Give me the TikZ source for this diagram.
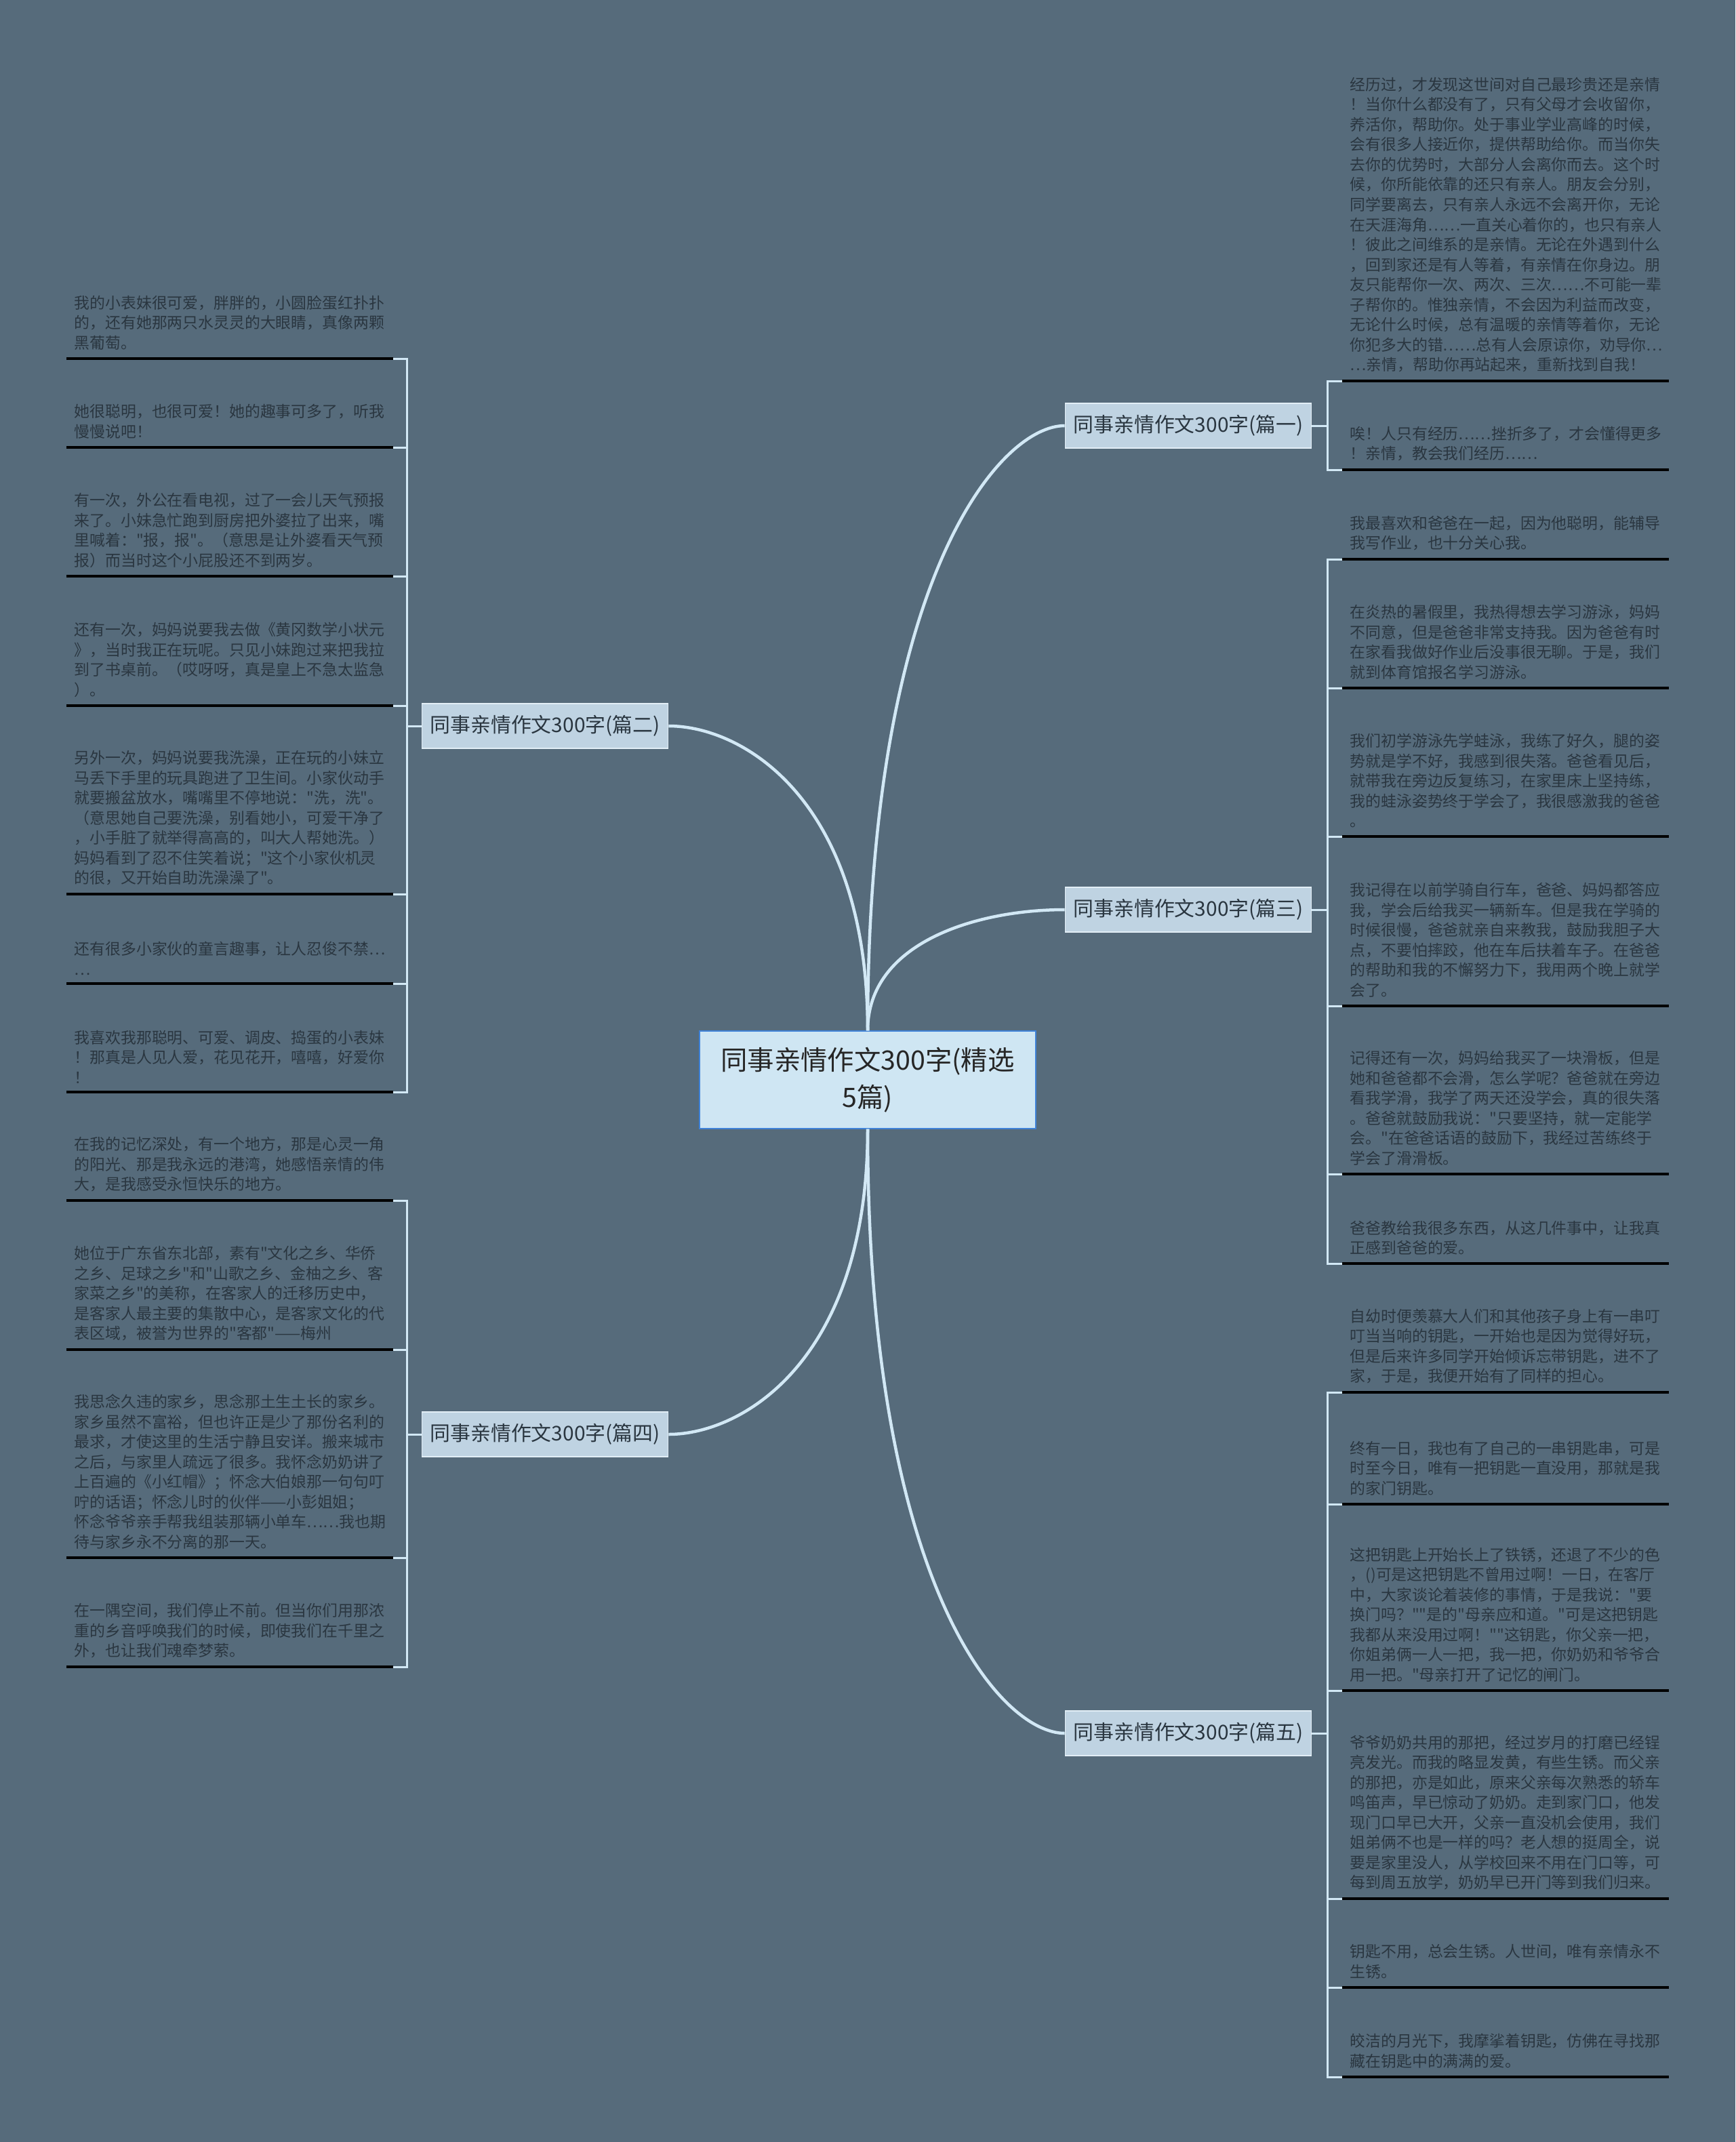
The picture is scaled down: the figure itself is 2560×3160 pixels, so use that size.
\documentclass[tikz,border=0pt]{standalone}
\usepackage{fontspec}
\usepackage{tikz}
\newfontfamily\zhfont{Noto Sans CJK SC}
\definecolor{bgslate}{HTML}{566B7B}
\definecolor{linkblue}{HTML}{D2E8F5}
\definecolor{rootfill}{HTML}{CFE6F3}
\definecolor{rootdraw}{HTML}{3F82D8}
\definecolor{branchfill}{HTML}{BFD3E2}
\definecolor{branchdraw}{HTML}{E2EEF6}
\definecolor{inktext}{HTML}{2A3640}

\begin{document}
\begin{tikzpicture}[
    x=0.01cm,y=-0.01cm,
    root/.style={draw=rootdraw,fill=rootfill,line width=0.02cm,align=center,
      minimum width=4.96cm,minimum height=1.43cm,inner sep=0pt,
      font=\zhfont\fontsize{11.2pt}{15.5pt}\selectfont,text=black!85},
    branch/.style={draw=branchdraw,fill=branchfill,line width=0.015cm,
      minimum width=3.63cm,minimum height=0.66cm,inner sep=0pt,
      font=\zhfont\fontsize{8.5pt}{10pt}\selectfont,text=inktext},
    leaf/.style={anchor=south west,align=left,text width=4.58cm,
      inner xsep=0.11cm,inner ysep=0.12cm,text=inktext,
      font=\zhfont\fontsize{6.5pt}{8.4pt}\selectfont},
    trunk/.style={draw=linkblue,line width=0.045cm},
    twig/.style={draw=linkblue,line width=0.03cm},
    rule/.style={draw=black,line width=0.035cm}
  ]
    \fill[bgslate] (0,0) rectangle (2560,3160);
    \useasboundingbox (0,0) rectangle (2560,3160);

    % centre and the five essays
    \node[root] (root) at (1280,1593) {同事亲情作文300字(精选\\5篇)};
    \node[branch] (p1) at (1753,628) {同事亲情作文300字(篇一)};
    \node[branch] (p2) at (804,1071) {同事亲情作文300字(篇二)};
    \node[branch] (p3) at (1753,1342) {同事亲情作文300字(篇三)};
    \node[branch] (p4) at (804,2116) {同事亲情作文300字(篇四)};
    \node[branch] (p5) at (1753,2557) {同事亲情作文300字(篇五)};

    \draw[trunk] (root.north) .. controls +(0,-670) and +(-95,0) .. (p1.west);
    \draw[trunk] (root.north) .. controls +(0,-340) and +(110,0) .. (p2.east);
    \draw[trunk] (root.north) .. controls +(0,-130) and +(-130,0) .. (p3.west);
    \draw[trunk] (root.south) .. controls +(0,340) and +(110,0) .. (p4.east);
    \draw[trunk] (root.south) .. controls +(0,670) and +(-95,0) .. (p5.west);

    % left column
    \node[leaf] (l21) at (98,529) {我的小表妹很可爱，胖胖的，小圆脸蛋红扑扑\\的，还有她那两只水灵灵的大眼睛，真像两颗\\黑葡萄。};
    \node[leaf] (l22) at (98,660) {她很聪明，也很可爱！她的趣事可多了，听我\\慢慢说吧！};
    \node[leaf] (l23) at (98,850) {有一次，外公在看电视，过了一会儿天气预报\\来了。小妹急忙跑到厨房把外婆拉了出来，嘴\\里喊着："报，报"。（意思是让外婆看天气预\\报）而当时这个小屁股还不到两岁。};
    \node[leaf] (l24) at (98,1041) {还有一次，妈妈说要我去做《黄冈数学小状元\\》，当时我正在玩呢。只见小妹跑过来把我拉\\到了书桌前。（哎呀呀，真是皇上不急太监急\\）。};
    \node[leaf] (l25) at (98,1319) {另外一次，妈妈说要我洗澡，正在玩的小妹立\\马丢下手里的玩具跑进了卫生间。小家伙动手\\就要搬盆放水，嘴嘴里不停地说："洗，洗"。\\（意思她自己要洗澡，别看她小，可爱干净了\\，小手脏了就举得高高的，叫大人帮她洗。）\\妈妈看到了忍不住笑着说；"这个小家伙机灵\\的很，又开始自助洗澡澡了"。};
    \node[leaf] (l26) at (98,1451) {还有很多小家伙的童言趣事，让人忍俊不禁…\\…};
    \node[leaf] (l27) at (98,1611) {我喜欢我那聪明、可爱、调皮、捣蛋的小表妹\\！那真是人见人爱，花见花开，嘻嘻，好爱你\\！};

    \node[leaf] (l41) at (98,1771) {在我的记忆深处，有一个地方，那是心灵一角\\的阳光、那是我永远的港湾，她感悟亲情的伟\\大，是我感受永恒快乐的地方。};
    \node[leaf] (l42) at (98,1991) {她位于广东省东北部，素有"文化之乡、华侨\\之乡、足球之乡"和"山歌之乡、金柚之乡、客\\家菜之乡"的美称，在客家人的迁移历史中，\\是客家人最主要的集散中心，是客家文化的代\\表区域，被誉为世界的"客都"——梅州};
    \node[leaf] (l43) at (98,2298) {我思念久违的家乡，思念那土生土长的家乡。\\家乡虽然不富裕，但也许正是少了那份名利的\\最求，才使这里的生活宁静且安详。搬来城市\\之后，与家里人疏远了很多。我怀念奶奶讲了\\上百遍的《小红帽》；怀念大伯娘那一句句叮\\咛的话语；怀念儿时的伙伴——小彭姐姐；\\怀念爷爷亲手帮我组装那辆小单车……我也期\\待与家乡永不分离的那一天。};
    \node[leaf] (l44) at (98,2459) {在一隅空间，我们停止不前。但当你们用那浓\\重的乡音呼唤我们的时候，即使我们在千里之\\外，也让我们魂牵梦萦。};

    % right column
    \node[leaf] (r11) at (1980,562) {经历过，才发现这世间对自己最珍贵还是亲情\\！当你什么都没有了，只有父母才会收留你，\\养活你，帮助你。处于事业学业高峰的时候，\\会有很多人接近你，提供帮助给你。而当你失\\去你的优势时，大部分人会离你而去。这个时\\候，你所能依靠的还只有亲人。朋友会分别，\\同学要离去，只有亲人永远不会离开你，无论\\在天涯海角……一直关心着你的，也只有亲人\\！彼此之间维系的是亲情。无论在外遇到什么\\，回到家还是有人等着，有亲情在你身边。朋\\友只能帮你一次、两次、三次……不可能一辈\\子帮你的。惟独亲情，不会因为利益而改变，\\无论什么时候，总有温暖的亲情等着你，无论\\你犯多大的错……总有人会原谅你，劝导你…\\…亲情，帮助你再站起来，重新找到自我！};
    \node[leaf] (r12) at (1980,693) {唉！人只有经历……挫折多了，才会懂得更多\\！亲情，教会我们经历……};

    \node[leaf] (r31) at (1980,825) {我最喜欢和爸爸在一起，因为他聪明，能辅导\\我写作业，也十分关心我。};
    \node[leaf] (r32) at (1980,1015) {在炎热的暑假里，我热得想去学习游泳，妈妈\\不同意，但是爸爸非常支持我。因为爸爸有时\\在家看我做好作业后没事很无聊。于是，我们\\就到体育馆报名学习游泳。};
    \node[leaf] (r33) at (1980,1234) {我们初学游泳先学蛙泳，我练了好久，腿的姿\\势就是学不好，我感到很失落。爸爸看见后，\\就带我在旁边反复练习，在家里床上坚持练，\\我的蛙泳姿势终于学会了，我很感激我的爸爸\\。};
    \node[leaf] (r34) at (1980,1484) {我记得在以前学骑自行车，爸爸、妈妈都答应\\我，学会后给我买一辆新车。但是我在学骑的\\时候很慢，爸爸就亲自来教我，鼓励我胆子大\\点，不要怕摔跤，他在车后扶着车子。在爸爸\\的帮助和我的不懈努力下，我用两个晚上就学\\会了。};
    \node[leaf] (r35) at (1980,1732) {记得还有一次，妈妈给我买了一块滑板，但是\\她和爸爸都不会滑，怎么学呢？爸爸就在旁边\\看我学滑，我学了两天还没学会，真的很失落\\。爸爸就鼓励我说："只要坚持，就一定能学\\会。"在爸爸话语的鼓励下，我经过苦练终于\\学会了滑滑板。};
    \node[leaf] (r36) at (1980,1864) {爸爸教给我很多东西，从这几件事中，让我真\\正感到爸爸的爱。};

    \node[leaf] (r51) at (1980,2054) {自幼时便羡慕大人们和其他孩子身上有一串叮\\叮当当响的钥匙，一开始也是因为觉得好玩，\\但是后来许多同学开始倾诉忘带钥匙，进不了\\家，于是，我便开始有了同样的担心。};
    \node[leaf] (r52) at (1980,2219) {终有一日，我也有了自己的一串钥匙串，可是\\时至今日，唯有一把钥匙一直没用，那就是我\\的家门钥匙。};
    \node[leaf] (r53) at (1980,2494) {这把钥匙上开始长上了铁锈，还退了不少的色\\，()可是这把钥匙不曾用过啊！一日，在客厅\\中，大家谈论着装修的事情，于是我说："要\\换门吗？""是的"母亲应和道。"可是这把钥匙\\我都从来没用过啊！""这钥匙，你父亲一把，\\你姐弟俩一人一把，我一把，你奶奶和爷爷合\\用一把。"母亲打开了记忆的闸门。};
    \node[leaf] (r54) at (1980,2801) {爷爷奶奶共用的那把，经过岁月的打磨已经锃\\亮发光。而我的略显发黄，有些生锈。而父亲\\的那把，亦是如此，原来父亲每次熟悉的轿车\\鸣笛声，早已惊动了奶奶。走到家门口，他发\\现门口早已大开，父亲一直没机会使用，我们\\姐弟俩不也是一样的吗？老人想的挺周全，说\\要是家里没人，从学校回来不用在门口等，可\\每到周五放学，奶奶早已开门等到我们归来。};
    \node[leaf] (r55) at (1980,2932) {钥匙不用，总会生锈。人世间，唯有亲情永不\\生锈。};
    \node[leaf] (r56) at (1980,3064) {皎洁的月光下，我摩挲着钥匙，仿佛在寻找那\\藏在钥匙中的满满的爱。};

    % brackets from each essay to its paragraphs
    \foreach \n in {l21,l22,l23,l24,l25,l26,l27}
      \draw[twig] (p2.west) -- ++(-21,0) |- (\n.south east);
    \foreach \n in {l41,l42,l43,l44}
      \draw[twig] (p4.west) -- ++(-21,0) |- (\n.south east);
    \foreach \n in {r11,r12}
      \draw[twig] (p1.east) -- ++(23,0) |- (\n.south west);
    \foreach \n in {r31,r32,r33,r34,r35,r36}
      \draw[twig] (p3.east) -- ++(23,0) |- (\n.south west);
    \foreach \n in {r51,r52,r53,r54,r55,r56}
      \draw[twig] (p5.east) -- ++(23,0) |- (\n.south west);

    \foreach \n in {l21,l22,l23,l24,l25,l26,l27,l41,l42,l43,l44,r11,r12,r31,r32,r33,r34,r35,r36,r51,r52,r53,r54,r55,r56}
      \draw[rule] (\n.south west) -- (\n.south east);
\end{tikzpicture}
\end{document}
